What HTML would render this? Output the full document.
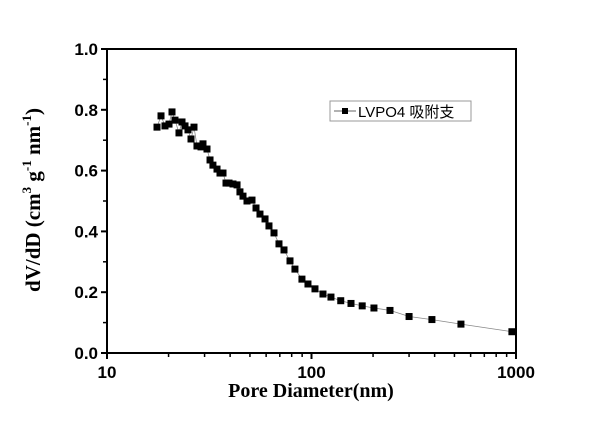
<!DOCTYPE html>
<html><head><meta charset="utf-8">
<style>
html,body{margin:0;padding:0;background:#fff;}
svg text{fill:#000;}
</style></head>
<body>
<svg id="chart" width="600" height="423" xmlns="http://www.w3.org/2000/svg">
<g id="ticks"></g>
<g id="series"></g>
<rect x="107" y="49" width="409" height="304" fill="none" stroke="#000" stroke-width="2"/>
<text x="311" y="397" text-anchor="middle" font-family="Liberation Serif, serif" font-weight="bold" font-size="20">Pore Diameter(nm)</text>
<text transform="translate(40,200) rotate(-90)" text-anchor="middle" font-family="Liberation Serif, serif" font-weight="bold" font-size="21">dV/dD (cm<tspan dy="-9" font-size="13">3</tspan><tspan dy="9"> g</tspan><tspan dy="-9" font-size="13">-1</tspan><tspan dy="9"> nm</tspan><tspan dy="-9" font-size="13">-1</tspan><tspan dy="9">)</tspan></text>
<g>
<rect x="330" y="101" width="141" height="20" fill="#fff" stroke="#999" stroke-width="1"/>
<line x1="334" y1="111" x2="356" y2="111" stroke="#666" stroke-width="1"/>
<rect x="342" y="108" width="6" height="6" fill="#000"/>
<text x="358" y="117" font-family="Liberation Sans, 'Noto Sans CJK SC', sans-serif" font-size="15">LVPO4 吸附支</text>
</g>
</svg>
<script>
const xValues=[17.56,18.37,19.21,20.10,20.79,21.50,22.49,23.27,24.07,24.89,25.75,26.63,27.54,28.82,29.47,30.83,31.90,32.96,34.51,35.69,36.92,38.19,39.51,41.31,43.24,44.68,46.24,48.37,51.17,53.54,55.98,59.26,61.95,65.56,69.34,73.37,78.5,83.0,89.8,96.1,104.0,113.8,124.5,139,156,177,202,242,300,388,538,955];
const yValues=[0.743,0.780,0.747,0.753,0.793,0.766,0.724,0.760,0.747,0.734,0.704,0.743,0.681,0.678,0.688,0.671,0.635,0.618,0.605,0.592,0.592,0.559,0.559,0.556,0.553,0.530,0.516,0.500,0.503,0.477,0.457,0.441,0.418,0.395,0.359,0.339,0.303,0.276,0.243,0.227,0.211,0.194,0.184,0.172,0.163,0.155,0.148,0.140,0.120,0.110,0.095,0.070];
const xTickLabels=["10","100","1000"];
const yTickLabels=["0.0","0.2","0.4","0.6","0.8","1.0"];
const NS="http://www.w3.org/2000/svg";
const L=107,R=516,T=49,B=353;
function sx(v){return L+(Math.log10(v)-1)/2*(R-L);}
function sy(v){return B-v*(B-T);}
function mk(tag,attrs,parent){const e=document.createElementNS(NS,tag);for(const k in attrs)e.setAttribute(k,attrs[k]);parent.appendChild(e);return e;}
const tg=document.getElementById('ticks');
xTickLabels.forEach(s=>{const v=+s,x=sx(v);
 const t=mk('line',{x1:x,y1:B,x2:x,y2:B+6,stroke:'#000','stroke-width':2},tg);
 
 
 const tx=mk('text',{x:x,y:B+25,'text-anchor':'middle','font-family':'Liberation Sans, sans-serif','font-weight':'bold','font-size':17},tg);
 tx.textContent=s;
 
 
});
[10,100].forEach(d=>{for(let m=2;m<10;m++){const x=sx(d*m);
 const t=mk('line',{x1:x,y1:B,x2:x,y2:B+4,stroke:'#000','stroke-width':1.5},tg);
 
 }});
yTickLabels.forEach(s=>{const v=+s,y=sy(v);
 const t=mk('line',{x1:L-6,y1:y,x2:L,y2:y,stroke:'#000','stroke-width':2},tg);
 
 
 const tx=mk('text',{x:L-9,y:y+6,'text-anchor':'end','font-family':'Liberation Sans, sans-serif','font-weight':'bold','font-size':17},tg);
 tx.textContent=s;
 
 
 if(v<1){const m=mk('line',{x1:L-4,y1:sy(v+0.1),x2:L,y2:sy(v+0.1),stroke:'#000','stroke-width':1.5},tg);
 
 }
});
const sg=document.getElementById('series');
const pts=xValues.map((x,i)=>sx(x).toFixed(1)+','+sy(yValues[i]).toFixed(1)).join(' ');
const pl=mk('polyline',{points:pts,fill:'none',stroke:'#888','stroke-width':0.8},sg);


xValues.forEach((x,i)=>{const r=mk('rect',{x:sx(x)-3.5,y:sy(yValues[i])-3.5,width:7,height:7,fill:'#000'},sg);
 
 });
</script>
</body></html>
